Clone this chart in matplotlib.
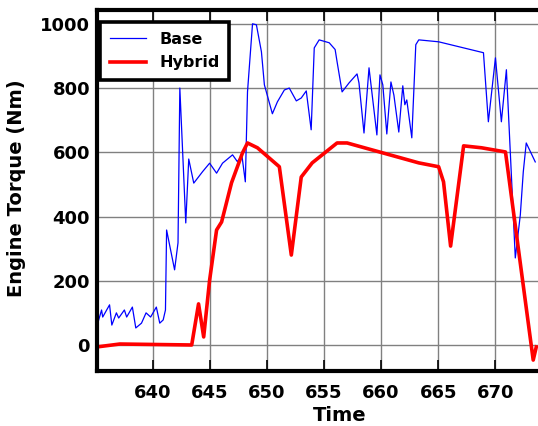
import matplotlib
matplotlib.use("Agg")
import matplotlib.pyplot as plt

# Base series (time, torque)
base_t = [635.2, 635.5, 635.6, 636.2, 636.4, 636.8, 637.0, 637.5, 637.7, 638.2, 638.5,
          639.0, 639.4, 639.8, 640.3, 640.6, 640.9, 641.1, 641.2, 641.9, 642.2, 642.36,
          642.88, 643.14, 643.58, 644.36, 644.97, 645.58, 646.1, 646.98, 647.4, 647.8,
          648.1, 648.29, 648.73, 649.07, 649.51, 649.77, 650.47, 650.91, 651.52, 651.95,
          652.57, 653.0, 653.44, 653.87, 654.14, 654.57, 655.45, 655.97, 656.14, 656.58,
          657.19, 657.89, 658.06, 658.5, 658.94, 659.63, 659.9, 660.15, 660.5, 660.86,
          661.12, 661.55, 661.9, 662.08, 662.25, 662.69, 663.04, 663.3, 665.04, 668.97,
          669.4, 670.02, 670.54, 670.98, 671.76, 672.2, 672.46, 672.72, 673.51]
base_v = [72, 109, 87, 125, 62, 100, 84, 109, 87, 118, 53,
          68, 100, 87, 118, 68, 78, 109, 358, 234, 318, 800,
          380, 579, 504, 540, 566, 535, 566, 592, 571, 590,
          508, 788, 1000, 997, 913, 810, 720, 757, 794, 800,
          760, 769, 791, 670, 925, 950, 941, 920, 882, 788,
          816, 844, 816, 660, 863, 654, 841, 810, 657, 819,
          778, 663, 807, 748, 763, 645, 935, 950, 944, 910,
          695, 894, 695, 857, 271, 405, 539, 629, 570]

# Hybrid series (time, torque)
hyb_t = [635.1, 637.1, 643.4, 644.0, 644.45, 644.97, 645.58, 646.02, 646.89, 647.85,
         648.29, 649.16, 651.08, 652.13, 653.0, 653.96, 656.14, 657.02, 663.3, 665.04,
         665.47, 666.09, 667.23, 668.8, 670.9, 673.33, 673.6]
hyb_v = [-6, 3, 0, 128, 25, 202, 358, 383, 505, 598,
         629, 614, 555, 280, 523, 567, 629, 629, 567, 555,
         508, 308, 620, 614, 601, -47, -6]

x_ticks = [640, 645, 650, 655, 660, 665, 670]
y_ticks = [0, 200, 400, 600, 800, 1000]

W, H = 538, 426
fig = plt.figure(figsize=(W / 100, H / 100), dpi=100)
ax = fig.add_axes([97 / W, 1 - 371 / H, (538 - 97) / W, (371 - 10) / H])

ax.plot(base_t, base_v, color="#0000ff", lw=0.9, label="Base")
ax.plot(hyb_t, hyb_v, color="#ff0000", lw=2.6, label="Hybrid", solid_joinstyle="round")

ax.set_xlim(635.1, 673.75)
ax.set_ylim(-81, 1043)
ax.set_xticks(x_ticks)
ax.set_yticks(y_ticks)
ax.grid(True, color="#808080", lw=1.0)
ax.set_axisbelow(True)

for s in ["left", "top", "bottom"]:
    ax.spines[s].set_linewidth(3.0)
ax.spines["right"].set_visible(False)

ax.tick_params(axis="x", direction="in", length=8, width=1.2, top=True, pad=9,
               labelsize=13)
ax.tick_params(axis="y", direction="in", length=0, pad=5, labelsize=13)
for lab in ax.get_xticklabels() + ax.get_yticklabels():
    lab.set_fontweight("bold")

ax.set_xlabel("Time", fontsize=14, fontweight="bold")
ax.set_ylabel("Engine Torque (Nm)", fontsize=14, fontweight="bold")
ax.xaxis.set_label_coords((340 - 97) / 441, -(406 - 371) / 361)
ax.yaxis.set_label_coords(-(97 - 26) / 441, (371 - 188) / 361)

leg = ax.legend(loc="upper left", bbox_to_anchor=(3 / 441, (371 - 22) / 361),
                borderaxespad=0, fancybox=False, framealpha=1, edgecolor="black",
                prop={"weight": "bold", "size": 11.5}, handlelength=2.3,
                labelspacing=0.55, borderpad=0.6)
leg.get_frame().set_linewidth(2.6)

fig.savefig("out.png", dpi=100)
